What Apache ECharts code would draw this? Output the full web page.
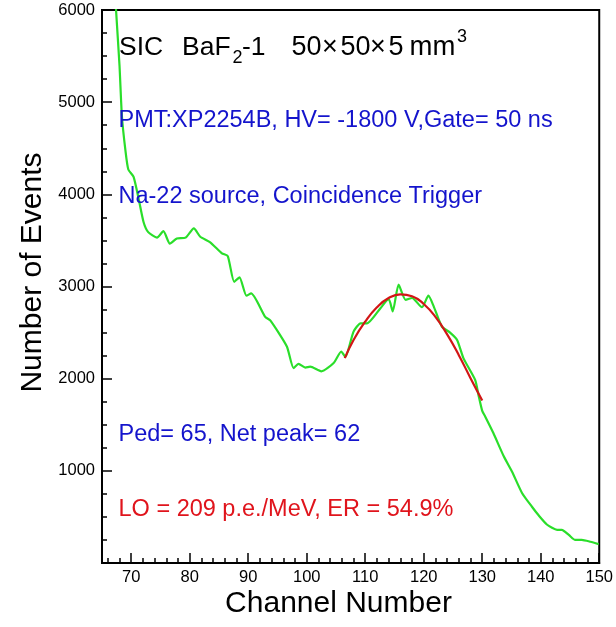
<!DOCTYPE html>
<html><head><meta charset="utf-8">
<script src="https://cdn.jsdelivr.net/npm/echarts@6/dist/echarts.min.js"></script>
<style>html,body{margin:0;padding:0;background:#fff}#c{width:616px;height:627px}</style>
</head><body><div id="c"></div>
<script>
// ---- data ----
const spectrumChannels = [67.0,67.4,68.0,68.4,69.0,69.5,70.4,71.3,72.1,72.9,74.4,75.5,76.6,77.8,79.3,80.7,81.8,83.5,85.5,86.5,87.6,88.5,89.7,90.5,92.9,93.8,96.6,97.75,98.6,99.75,100.6,102.5,104.6,105.9,106.6,108.0,109.2,110.3,112.6,114.0,114.7,115.7,116.9,118.0,119.7,120.8,121.7,123.1,124.5,125.7,126.8,128.8,129.4,130.0,130.5,131.9,133.7,135.1,136.8,138.5,139.6,141.1,142.8,143.6,144.8,145.9,147.0,148.5,149.9];
const spectrumCounts   = [6450,6000,5390,4850,4480,4270,4190,3940,3700,3590,3530,3600,3465,3520,3530,3630,3540,3480,3360,3330,3050,3100,2900,2925,2670,2630,2350,2115,2160,2120,2130,2080,2170,2295,2235,2510,2600,2600,2765,2865,2730,3020,2855,2875,2775,2900,2785,2565,2500,2420,2220,1985,1810,1650,1590,1410,1155,990,760,610,520,415,360,360,305,250,250,230,205];
const fitChannels = [106.5,108,110,112,114,116,118,120,122,124,126,128,130];
const fitCounts   = [2222,2420,2620,2775,2875,2915,2895,2810,2670,2480,2255,2005,1762];
const xMajorTicks = [70,80,90,100,110,120,130,140,150];
const xMinorTicks = [66,68,70,72,74,76,78,80,82,84,86,88,90,92,94,96,98,100,102,104,106,108,110,112,114,116,118,120,122,124,126,128,130,132,134,136,138,140,142,144,146,148,150];
const yTicks = [0,1000,2000,3000,4000,5000,6000];
const xTitle = 'Channel Number';
const yTitle = 'Number of Events';
const infoLines = ['PMT:XP2254B, HV= -1800 V,Gate= 50 ns','Na-22 source, Coincidence Trigger','Ped= 65, Net peak= 62','LO = 209 p.e./MeV, ER = 54.9%'];

const F = "'Liberation Sans', Arial, sans-serif";
const zip = (a,b) => a.map((v,i)=>[v,b[i]]);
const chart = echarts.init(document.getElementById('c'), null, {renderer:'canvas'});
const blue = '#1414cc', red = '#e0141c';
function txt(x,y,text,size,color){
  return {type:'text', x:x, y:y, z:10, style:{text:text, fill:color||'#000', font:size+'px '+F, align:'left', verticalAlign:'middle'}};
}
chart.setOption({
  animation:false,
  backgroundColor:'#fff',
  grid:{left:102, right:14, top:10, bottom:64, show:true, borderColor:'#000', borderWidth:2, backgroundColor:'transparent'},
  xAxis:[{
    type:'value', min:65, max:150, position:'bottom',
    axisLine:{show:true, onZero:false, lineStyle:{color:'#000', width:2}},
    axisTick:{show:true, inside:true, length:10, customValues:xMajorTicks, lineStyle:{color:'#000', width:1.5}},
    axisLabel:{show:true, customValues:xMajorTicks, margin:6, fontSize:16.5, fontFamily:F, color:'#000'},
    splitLine:{show:false}
  },{
    type:'value', min:65, max:150, position:'bottom',
    axisLine:{show:false},
    axisTick:{show:true, inside:true, length:5, customValues:xMinorTicks, lineStyle:{color:'#000', width:1.5}},
    axisLabel:{show:false},
    splitLine:{show:false}
  }],
  yAxis:{
    type:'value', min:yTicks[0], max:yTicks[yTicks.length-1], interval:1000,
    axisLine:{show:true, onZero:false, lineStyle:{color:'#000', width:2}},
    axisTick:{show:true, inside:true, length:10, lineStyle:{color:'#000', width:1.5}},
    minorTick:{show:true, splitNumber:4, length:5, lineStyle:{color:'#000', width:1.5}},
    axisLabel:{margin:7, fontSize:16.5, fontFamily:F, color:'#000', formatter:v=> v===0?'':String(v)},
    splitLine:{show:false}
  },
  series:[{
    type:'line', xAxisIndex:0, data:zip(spectrumChannels, spectrumCounts), showSymbol:false, smooth:0.2, clip:true,
    lineStyle:{color:'#2ade2a', width:2.2}, z:3
  },{
    type:'line', xAxisIndex:0, data:zip(fitChannels, fitCounts), showSymbol:false, smooth:true, clip:true,
    lineStyle:{color:'#d21616', width:2.2}, z:4
  }],
  graphic:[
    txt(119,47.5,'SIC',26.5,'#000'),
    txt(182,47.5,'BaF',26.5,'#000'),
    txt(232.5,58.5,'2',18,'#000'),
    txt(242,47.5,'-1',26.5,'#000'),
    txt(291.5,47.5,'50',27,'#000'),
    txt(322,47.5,'×',27,'#000'),
    txt(340.5,47.5,'50',27,'#000'),
    txt(370,47.5,'×',27,'#000'),
    txt(388.5,47.5,'5',27,'#000'),
    txt(409.5,47.5,'mm',27.5,'#000'),
    txt(457,36.7,'3',18,'#000'),
    txt(118.5,120.8,infoLines[0],23.5,blue),
    txt(118.5,196.7,infoLines[1],23.5,blue),
    txt(118.5,434.7,infoLines[2],23.5,blue),
    txt(118.5,509.7,infoLines[3],23.5,red),
    {type:'text', x:338.5, y:604, style:{text:xTitle, fill:'#000', font:'30px '+F, align:'center', verticalAlign:'middle'}},
    {type:'text', x:32.5, y:272.5, rotation:Math.PI/2, style:{text:yTitle, fill:'#000', font:'30px '+F, align:'center', verticalAlign:'middle'}}
  ]
});
</script></body></html>
